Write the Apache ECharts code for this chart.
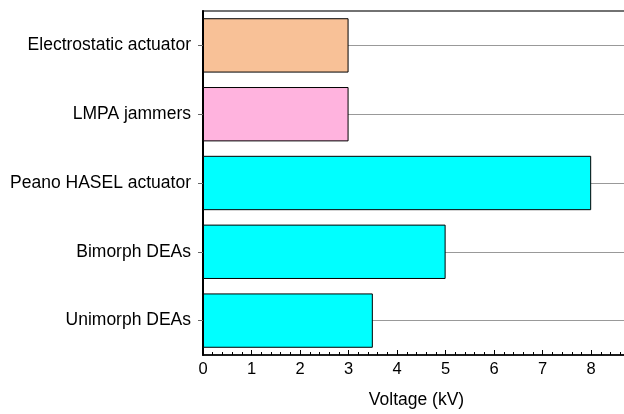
<!DOCTYPE html>
<html>
<head>
<meta charset="utf-8">
<style>
  html, body { margin: 0; padding: 0; background: #ffffff; }
  #chart { width: 624px; height: 414px; }
</style>
<script src="https://cdn.jsdelivr.net/npm/echarts@6/dist/echarts.min.js"></script>
</head>
<body>
<div id="chart"></div>
<script>
// Actuator types, listed bottom to top
var categories = ['Unimorph DEAs', 'Bimorph DEAs', 'Peano HASEL actuator', 'LMPA jammers', 'Electrostatic actuator'];
// Operating voltage (kV)
var voltages = [3.5, 5, 8, 3, 3];
var barColors = ['#00FFFF', '#00FFFF', '#00FFFF', '#FFB3DE', '#F8C197'];

var chart = echarts.init(document.getElementById('chart'), null, { renderer: 'canvas' });

var font = 'Liberation Sans, Arial, sans-serif';

chart.setOption({
  animation: false,
  backgroundColor: '#ffffff',
  grid: {
    left: 203,
    top: 11,
    width: 427,
    height: 344,
    outerBoundsMode: 'none',
    containLabel: false,
    show: true,
    borderColor: '#444444',
    borderWidth: 1.4,
    backgroundColor: 'transparent'
  },
  xAxis: {
    type: 'value',
    min: 0,
    max: 8.8,
    interval: 1,
    name: 'Voltage (kV)',
    nameLocation: 'middle',
    nameGap: 36,
    nameTextStyle: { color: '#000', fontSize: 17.5, fontFamily: font },
    axisLine: { show: true, onZero: false, lineStyle: { color: '#000', width: 1.5 } },
    axisTick: { show: true, inside: true, length: 5, lineStyle: { color: '#000', width: 1 } },
    minorTick: { show: true, splitNumber: 5, length: 3, lineStyle: { color: '#000', width: 1 } },
    axisLabel: {
      color: '#000', fontSize: 16.5, fontFamily: font, margin: 6,
      formatter: function (v) { return Number.isInteger(v) ? String(v) : ''; }
    },
    splitLine: { show: false }
  },
  yAxis: {
    type: 'category',
    data: categories,
    axisLine: { show: true, lineStyle: { color: '#000', width: 2 } },
    axisTick: { show: true, alignWithLabel: true, length: 5, lineStyle: { color: '#666', width: 1 } },
    axisLabel: { color: '#000', fontSize: 17.5, fontFamily: font, margin: 12 },
    splitLine: { show: false }
  },
  series: [
    {
      // guide lines through each category centre, drawn beneath the bars
      type: 'line',
      data: [],
      z: 1,
      silent: true,
      markLine: {
        silent: true,
        z: 1,
        symbol: 'none',
        label: { show: false },
        lineStyle: { color: '#999999', type: 'solid', width: 1.2 },
        data: categories.map(function (c) { return { yAxis: c }; })
      }
    },
    {
      type: 'bar',
      z: 3,
      barWidth: '79%',
      data: voltages.map(function (v, i) {
        return { value: v, itemStyle: { color: barColors[i] } };
      }),
      itemStyle: { borderColor: '#000', borderWidth: 1 }
    }
  ]
});
</script>
</body>
</html>
